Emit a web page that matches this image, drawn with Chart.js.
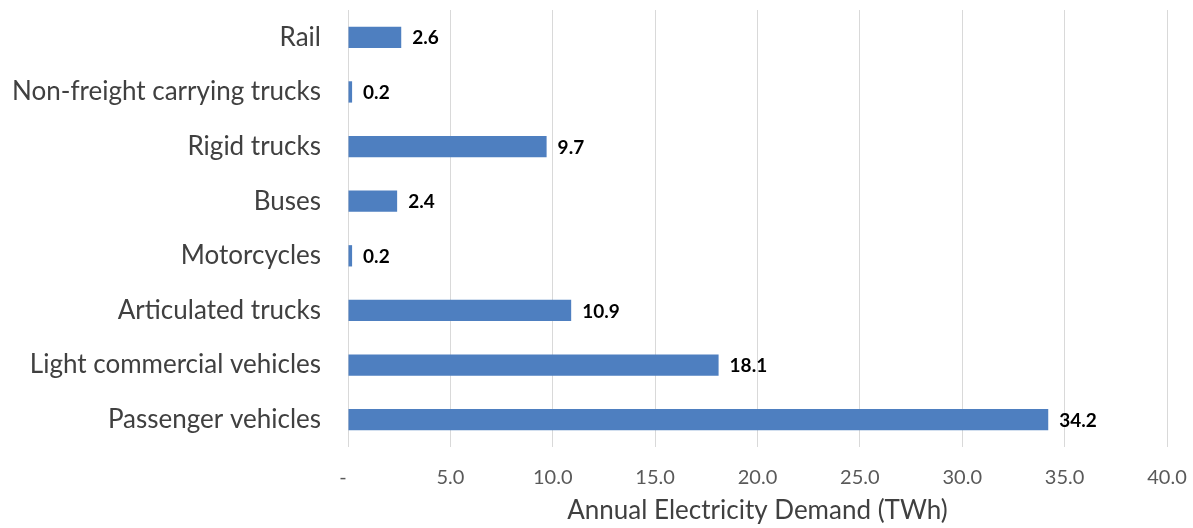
<!DOCTYPE html>
<html>
<head>
<meta charset="utf-8">
<script src="https://cdn.jsdelivr.net/npm/chart.js@4/dist/chart.umd.min.js"></script>
<style>
  html, body { margin: 0; padding: 0; background: #fff; }
  #wrap { width: 1193px; height: 528px; }
</style>
</head>
<body>
<div id="wrap"><canvas id="myChart"></canvas></div>
<script>
// categories, top to bottom
const categories = ['Rail', 'Non-freight carrying trucks', 'Rigid trucks', 'Buses',
  'Motorcycles', 'Articulated trucks', 'Light commercial vehicles', 'Passenger vehicles'];
const demand = [2.6, 0.2, 9.7, 2.4, 0.2, 10.9, 18.1, 34.2];
const xTicks = [0, 5, 10, 15, 20, 25, 30, 35, 40];

// simple value labels at the end of each bar
const barValues = {
  id: 'barValues',
  afterDatasetsDraw(chart) {
    const ctx = chart.ctx;
    const meta = chart.getDatasetMeta(0);
    ctx.save();
    ctx.font = 'bold 19px Lato';
    ctx.fillStyle = '#000';
    ctx.textBaseline = 'middle';
    ctx.textAlign = 'left';
    meta.data.forEach((bar, i) => {
      ctx.fillText(demand[i].toFixed(1), bar.x + 11, bar.y + 1);
    });
    ctx.restore();
  }
};

const config = {
  type: 'bar',
  data: {
    labels: categories,
    datasets: [{
      label: 'Annual Electricity Demand',
      data: demand,
      backgroundColor: '#4e7fc0',
      borderWidth: 0,
      categoryPercentage: 1,
      barPercentage: 0.39
    }]
  },
  options: {
    indexAxis: 'y',
    responsive: true,
    maintainAspectRatio: false,
    animation: false,
    layout: { padding: { top: 10, right: 26, left: 0, bottom: 0 } },
    plugins: {
      legend: { display: false },
      tooltip: { enabled: false }
    },
    scales: {
      x: {
        min: 0,
        max: 40,
        afterBuildTicks: scale => { scale.ticks = xTicks.map(v => ({ value: v })); },
        afterFit: scale => {
          scale.height = 81;
          scale.paddingLeft = 0;
          scale.paddingRight = 0;
        },
        grid: { color: '#d9d9d9', lineWidth: 1, drawTicks: false },
        border: { display: false },
        ticks: {
          padding: 19,
          color: '#595959',
          font: { family: 'Lato', size: 20 },
          callback: v => v === 0 ? '-  ' : v.toFixed(1)
        },
        title: {
          display: true,
          text: 'Annual Electricity Demand (TWh)',
          color: '#404040',
          font: { family: 'Lato', size: 26 },
          padding: { top: 2, bottom: 2 }
        }
      },
      y: {
        afterFit: scale => {
          scale.width = 348;
          scale.paddingTop = 0;
          scale.paddingBottom = 0;
        },
        grid: { display: false, drawTicks: false },
        border: { display: false },
        ticks: {
          padding: 27,
          color: '#404040',
          font: { family: 'Lato', size: 26 }
        }
      }
    }
  },
  plugins: [barValues]
};

const myChart = new Chart(document.getElementById('myChart'), config);
</script>
</body>
</html>
